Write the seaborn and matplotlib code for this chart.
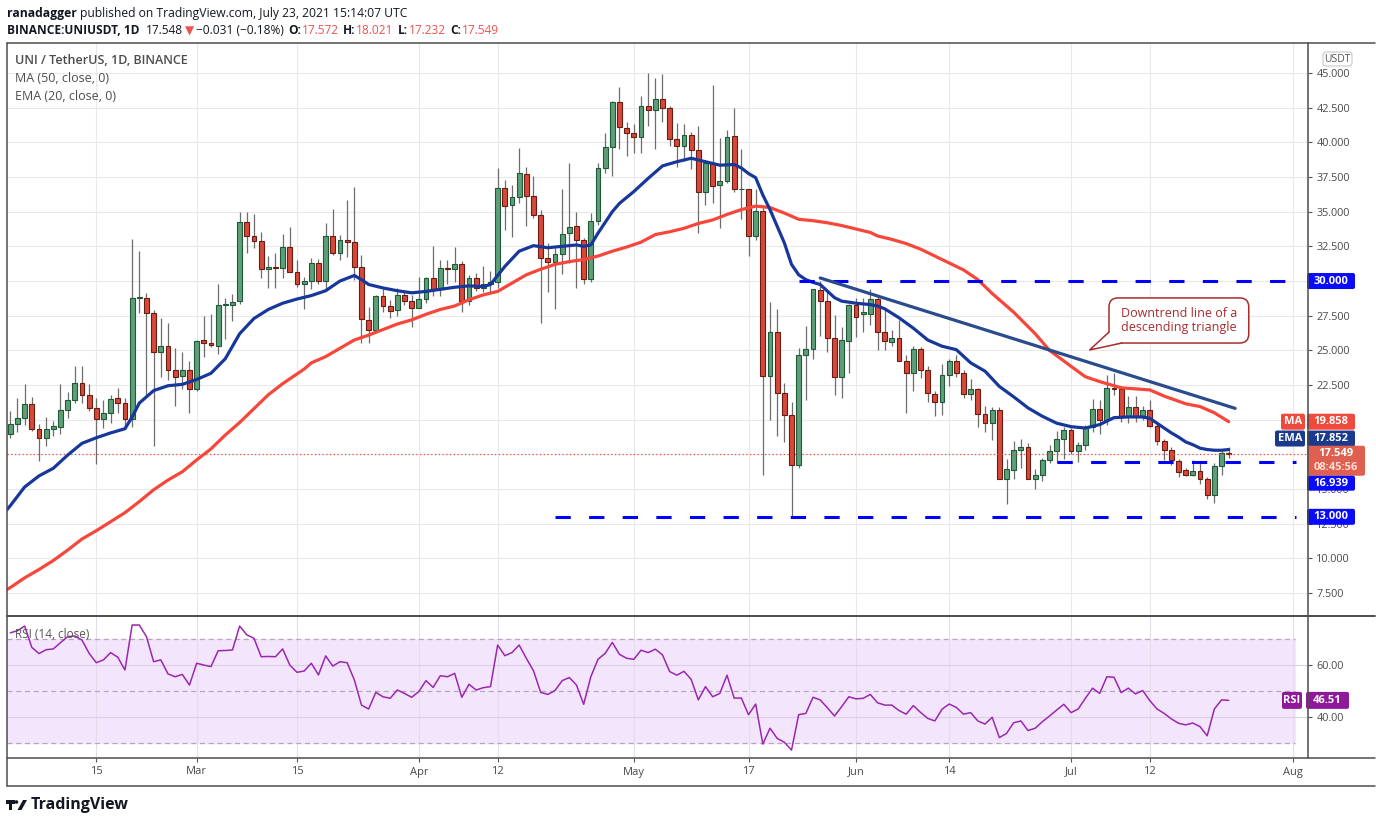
import numpy as np
import pandas as pd
import matplotlib
matplotlib.use("Agg")
import matplotlib.pyplot as plt
import seaborn as sns
from matplotlib.patches import FancyBboxPatch, Polygon, Rectangle, Circle
from matplotlib.lines import Line2D
from matplotlib.transforms import IdentityTransform

W, H = 1376, 823

# ---- values: UNI/USDT daily, 3 Feb - 23 Jul 2021 ----
first_day = "2021-02-03"

opens = [19.0, 19.7, 20.15, 21.15, 19.3, 18.7, 19.35, 19.5, 20.7, 21.45,
         22.65, 21.8, 20.85, 20.05, 20.5, 21.6, 21.2, 20.05, 28.75, 28.8,
         27.7, 24.85, 25.3, 23.55, 23.15, 23.6, 22.25, 25.75, 25.55, 25.35,
         28.3, 28.3, 28.55, 34.25, 33.25, 32.9, 30.85, 31.0, 30.95, 32.45,
         30.65, 29.8, 30.0, 31.3, 30.0, 33.25, 32.0, 32.95, 32.8, 31.0,
         27.2, 26.5, 28.9, 28.2, 27.9, 29.0, 28.55, 28.05, 28.7, 30.2,
         29.4, 30.95, 30.85, 31.2, 28.55, 30.2, 29.5, 29.8, 29.95, 36.7,
         35.5, 36.05, 37.7, 36.1, 34.75, 31.65, 31.35, 31.95, 33.45, 33.95,
         32.95, 30.15, 34.3, 38.15, 39.65, 42.9, 41.05, 40.7, 40.4, 42.6,
         42.3, 43.1, 42.45, 40.25, 39.7, 40.5, 39.45, 36.4, 38.5, 36.9,
         37.2, 40.45, 36.6, 36.6, 33.25, 35.05, 23.15, 26.3, 21.9, 20.35,
         16.75, 24.65, 25.1, 29.35, 28.55, 25.9, 23.1, 25.7, 28.3, 27.6,
         27.6, 28.7, 26.35, 25.6, 25.9, 24.25, 23.4, 25.1, 23.6, 21.85,
         21.25, 23.2, 24.2, 23.4, 21.85, 22.25, 20.4, 19.75, 20.7, 15.75,
         16.35, 17.8, 18.0, 15.75, 16.05, 17.1, 17.75, 18.6, 19.25, 17.75,
         18.15, 19.45, 20.75, 20.0, 22.3, 22.25, 20.3, 20.95, 20.3, 20.7,
         19.55, 18.45, 17.85, 17.0, 16.35, 16.05, 16.3, 15.7, 14.55, 16.7,
         17.572]
highs = [20.6, 21.6, 22.55, 21.65, 19.7, 20.2, 19.9, 22.55, 22.0, 23.85,
         23.85, 22.6, 21.6, 21.4, 21.8, 22.3, 21.6, 33.05, 32.2, 29.15,
         27.9, 27.35, 27.0, 25.2, 24.85, 24.2, 25.75, 27.5, 27.65, 29.8,
         28.8, 29.1, 34.95, 34.95, 34.8, 33.55, 31.8, 32.0, 33.4, 33.9,
         31.55, 30.3, 31.65, 31.6, 34.2, 35.2, 33.3, 35.85, 36.8, 31.9,
         28.1, 29.0, 29.4, 28.65, 29.5, 29.3, 29.0, 30.3, 30.3, 32.55,
         31.55, 31.55, 32.45, 31.45, 30.4, 30.55, 31.05, 30.7, 38.15, 37.25,
         36.9, 39.6, 38.25, 37.6, 35.15, 32.75, 32.4, 36.6, 38.5, 34.95,
         33.1, 34.9, 38.5, 40.65, 43.0, 44.0, 41.45, 41.35, 43.35, 45.0,
         44.65, 44.95, 42.6, 41.4, 41.3, 40.75, 41.2, 38.75, 44.1, 40.3,
         40.9, 42.45, 39.5, 36.65, 36.6, 35.45, 28.5, 28.0, 22.65, 21.3,
         25.15, 26.75, 29.45, 30.0, 29.4, 27.55, 26.7, 28.35, 28.75, 28.8,
         29.4, 29.0, 27.9, 26.5, 27.2, 24.65, 25.3, 25.25, 23.9, 22.1,
         24.0, 24.35, 24.7, 23.6, 22.95, 22.3, 21.0, 20.9, 20.9, 17.15,
         18.45, 18.6, 18.3, 16.45, 17.25, 18.15, 19.2, 19.5, 19.4, 18.4,
         19.6, 21.5, 21.4, 23.2, 23.4, 22.4, 21.7, 21.7, 21.0, 21.4,
         19.75, 18.6, 18.05, 17.15, 16.5, 17.1, 17.0, 15.9, 16.85, 17.8,
         18.021]
lows = [18.65, 19.15, 19.6, 19.2, 17.0, 18.1, 18.8, 18.95, 20.1, 21.2,
        21.2, 20.6, 16.8, 19.4, 19.8, 20.5, 19.4, 19.5, 27.7, 21.8,
        18.1, 23.1, 22.9, 21.0, 22.25, 20.5, 22.05, 24.5, 25.25, 24.75,
        25.8, 27.1, 28.35, 32.0, 32.35, 30.25, 29.5, 29.5, 30.2, 30.65,
        29.55, 28.0, 29.4, 29.75, 29.4, 31.85, 31.5, 31.7, 30.1, 25.55,
        25.5, 26.4, 27.75, 27.3, 27.5, 28.25, 26.7, 28.05, 28.4, 28.9,
        28.9, 29.8, 29.9, 27.75, 28.3, 29.25, 29.2, 29.15, 29.5, 33.7,
        33.2, 35.6, 33.95, 34.55, 27.0, 29.2, 28.0, 30.5, 31.3, 29.5,
        29.8, 29.95, 34.05, 37.8, 37.6, 39.55, 39.0, 39.25, 39.25, 41.2,
        39.5, 41.5, 39.7, 38.25, 38.65, 38.05, 33.45, 35.45, 35.65, 33.85,
        37.1, 36.45, 34.5, 31.8, 32.95, 16.0, 19.95, 18.8, 18.4, 13.0,
        16.5, 21.45, 24.4, 26.05, 24.85, 21.75, 21.6, 23.4, 25.95, 26.3,
        26.85, 25.0, 25.0, 25.3, 24.2, 20.5, 22.05, 23.0, 21.25, 20.25,
        20.35, 22.45, 23.05, 21.55, 21.4, 19.5, 19.15, 18.55, 15.7, 13.9,
        15.75, 16.55, 15.7, 15.0, 15.55, 16.85, 16.9, 17.15, 17.5, 16.95,
        17.8, 19.15, 19.0, 19.6, 21.8, 19.85, 19.75, 19.85, 19.95, 19.5,
        18.2, 17.1, 16.75, 15.9, 15.95, 15.95, 15.35, 14.3, 14.0, 16.05,
        17.232]
closes = [19.7, 20.15, 21.15, 19.3, 18.7, 19.35, 19.55, 20.7, 21.45, 22.65,
          21.8, 20.85, 20.05, 20.5, 21.5, 21.2, 20.05, 28.8, 28.8, 27.7,
          24.85, 25.3, 23.55, 23.1, 23.55, 22.25, 25.7, 25.55, 25.4, 28.3,
          28.3, 28.5, 34.25, 33.25, 32.9, 30.85, 31.0, 30.95, 32.45, 30.65,
          29.8, 30.0, 31.3, 30.0, 33.25, 32.0, 32.95, 32.8, 31.0, 27.25,
          26.5, 28.9, 28.2, 27.85, 29.0, 28.55, 28.05, 28.7, 30.2, 29.4,
          30.95, 30.85, 31.2, 28.55, 30.2, 29.5, 29.8, 29.95, 36.7, 35.4,
          36.05, 37.8, 36.1, 34.75, 31.65, 31.35, 31.95, 33.4, 33.9, 32.95,
          30.15, 34.3, 38.15, 39.65, 42.9, 41.1, 40.7, 40.4, 42.6, 42.3,
          43.1, 42.5, 40.25, 39.7, 40.5, 39.45, 36.4, 38.5, 36.85, 37.2,
          40.4, 36.6, 36.65, 33.25, 35.05, 23.15, 26.3, 21.9, 20.35, 16.75,
          24.65, 25.1, 29.4, 28.55, 25.9, 23.1, 25.75, 28.3, 27.4, 27.8,
          28.7, 26.35, 25.65, 25.9, 24.25, 23.4, 25.1, 23.6, 21.9, 21.25,
          23.2, 24.2, 23.4, 21.85, 22.25, 20.4, 19.75, 20.7, 15.75, 16.45,
          17.8, 18.0, 15.75, 16.05, 17.1, 17.75, 18.6, 19.25, 17.75, 18.15,
          19.45, 20.75, 20.0, 22.3, 22.2, 20.3, 20.95, 20.3, 20.7, 19.55,
          18.45, 17.85, 17.1, 16.25, 16.05, 16.3, 15.7, 14.55, 16.7, 17.6,
          17.549]
rsi = [72.5, 73.3, 75.1, 66.9, 64.5, 66.0, 66.3, 68.7, 71.0, 71.3,
       69.7, 64.6, 61.0, 62.1, 64.9, 63.1, 58.2, 75.5, 75.5, 71.0,
       61.4, 62.1, 56.7, 55.6, 56.5, 52.4, 60.8, 60.1, 59.5, 65.6,
       65.7, 65.9, 75.1, 71.7, 70.4, 63.3, 63.4, 63.3, 66.3, 60.1,
       57.3, 57.8, 60.8, 56.3, 63.6, 59.7, 61.4, 61.0, 54.4, 44.7,
       43.2, 49.6, 47.9, 47.3, 50.5, 49.2, 47.7, 49.9, 54.1, 51.5,
       56.0, 55.6, 56.9, 47.7, 52.7, 50.5, 51.4, 51.8, 67.8, 63.7,
       64.9, 67.8, 62.7, 57.9, 49.6, 48.8, 50.3, 54.1, 55.3, 52.4,
       45.0, 55.6, 62.3, 64.6, 68.8, 64.2, 62.7, 62.3, 65.8, 64.9,
       66.2, 64.0, 57.6, 56.2, 57.7, 54.6, 46.7, 51.8, 47.9, 49.2,
       56.2, 47.4, 47.4, 41.0, 45.1, 29.7, 35.8, 31.9, 30.4, 27.4,
       41.0, 41.5, 47.7, 46.7, 43.7, 40.5, 44.1, 47.9, 47.1, 47.3,
       48.8, 45.6, 44.7, 44.7, 42.6, 41.2, 44.5, 41.9, 39.6, 38.6,
       43.1, 45.1, 43.8, 41.2, 41.8, 38.6, 37.4, 40.0, 32.2, 33.8,
       37.9, 38.6, 34.9, 35.8, 38.3, 40.5, 42.8, 45.0, 41.8, 43.2,
       47.3, 51.2, 49.2, 55.6, 55.4, 49.5, 51.2, 49.0, 50.3, 46.4,
       43.2, 41.5, 39.4, 37.7, 37.1, 37.8, 36.4, 32.9, 43.2, 46.7,
       46.51]

# EMA(20) and MA(50) read at these bar numbers (1 = first bar)
ema_bar = [0.5, 1, 3, 5, 7, 9, 11, 13, 15, 17, 18, 19, 21, 23, 25, 27, 29, 31, 33, 35,
           37, 39, 41, 43, 45, 47, 49, 50, 51, 53, 55, 57, 59, 61, 63, 65, 67, 68, 69, 70,
           72, 74, 76, 78, 80, 81, 82, 83, 85, 86, 88, 90, 92, 94, 96, 98, 100, 102, 103, 104,
           105, 106, 107, 108, 109, 110, 111, 112, 113, 114, 116, 117, 119, 121, 122, 123, 125, 127, 129, 131,
           133, 135, 137, 139, 141, 143, 145, 147, 149, 151, 153, 155, 157, 159, 160, 161, 162, 163, 164, 165,
           166, 167, 168, 169, 170, 171]
ema_val = [13.5, 13.8, 15.15, 15.95, 16.5, 17.45, 18.3, 18.7, 19.05, 19.35, 20.2, 21.2, 22.1, 22.45, 22.55, 22.9, 23.35, 24.4, 26.2, 27.3,
           27.95, 28.4, 28.7, 28.95, 29.3, 30.0, 30.4, 30.1, 29.75, 29.5, 29.3, 29.15, 29.25, 29.4, 29.55, 29.65, 29.6, 29.75, 30.4, 31.05,
           32.15, 32.55, 32.4, 32.5, 32.6, 32.5, 32.6, 33.45, 35.0, 35.6, 36.45, 37.4, 38.3, 38.6, 38.85, 38.6, 38.35, 38.4, 38.15, 37.75,
           37.45, 36.2, 35.15, 33.95, 32.75, 31.2, 30.45, 30.1, 29.9, 29.75, 28.8, 28.55, 28.4, 28.3, 28.2, 28.0, 27.35, 26.6, 25.75, 25.3,
           25.05, 24.1, 23.5, 22.4, 21.65, 20.85, 20.25, 19.75, 19.5, 19.4, 19.65, 20.15, 20.2, 20.2, 20.1, 19.75, 19.4, 19.05, 18.75, 18.4,
           18.2, 17.95, 17.85, 17.8, 17.8, 17.85]
ma_bar = [0.5, 1, 3, 5, 7, 9, 11, 13, 15, 17, 19, 21, 23, 25, 27, 29, 31, 33, 35, 37,
          39, 41, 42, 43, 45, 47, 49, 51, 53, 55, 57, 59, 61, 63, 65, 67, 69, 71, 73, 75,
          77, 79, 81, 83, 85, 87, 89, 91, 93, 95, 97, 99, 101, 103, 105, 107, 109, 111, 113, 115,
          117, 119, 121, 122, 124, 126, 128, 130, 132, 134, 136, 138, 141, 144, 146, 149, 151, 153, 154, 156,
          160, 162, 165, 167, 169, 171]
ma_val = [7.75, 7.9, 8.6, 9.2, 9.85, 10.6, 11.4, 12.0, 12.65, 13.3, 14.1, 14.95, 15.65, 16.25, 17.1, 17.9, 18.9, 19.8, 20.8, 21.8,
          22.6, 23.3, 23.65, 24.1, 24.55, 25.15, 25.75, 26.1, 26.5, 26.9, 27.2, 27.6, 27.95, 28.2, 28.65, 29.0, 29.25, 29.85, 30.45, 30.85,
          31.2, 31.4, 31.55, 31.8, 32.15, 32.45, 32.8, 33.35, 33.55, 33.8, 34.15, 34.4, 34.8, 35.15, 35.4, 35.3, 34.9, 34.45, 34.35, 34.2,
          34.0, 33.75, 33.5, 33.25, 33.0, 32.7, 32.3, 31.8, 31.3, 30.8, 30.1, 29.1, 27.75, 26.2, 25.0, 23.85, 23.1, 22.75, 22.6, 22.3,
          22.15, 21.7, 21.15, 20.95, 20.5, 19.86]

tick_dates = ["2021-02-15", "2021-03-01", "2021-03-15", "2021-04-01", "2021-04-12", "2021-05-01",
              "2021-05-17", "2021-06-01", "2021-06-14", "2021-07-01", "2021-07-12", "2021-08-01"]
tick_labels = ["15", "Mar", "15", "Apr", "12", "May", "17", "Jun", "14", "Jul", "12", "Aug"]
price_ticks = [7.5, 10, 12.5, 15, 17.5, 20, 22.5, 25, 27.5, 30, 32.5, 35, 37.5, 40, 42.5, 45]
hidden_ticks = [17.5, 20]            # covered by the price / MA tags on the chart

levels = [30.0, 16.939, 13.0]        # dashed support / resistance
level_start = [110, 146, 76]         # bar index where each dashed line begins
trend_x = [113.0, 170.9]             # downtrend line
trend_y = [30.22, 20.82]
last_price = 17.549
ma_last, ema_last, rsi_last = 19.858, 17.852, 46.51

# ---- figure ----
sns.set_theme(style="white")
plt.rcParams["font.family"] = ["Open Sans", "DejaVu Sans"]

fig = plt.figure(figsize=(W / 100, H / 100), dpi=100)
fig.patch.set_facecolor("white")
ID = IdentityTransform()


def dx(xpx):
    # image pixel column -> bar index
    return (xpx - 10.3) / 7.167


def add_ax(x0, y0, x1, y1):
    a = fig.add_axes([x0 / W, 1 - y1 / H, (x1 - x0) / W, (y1 - y0) / H])
    for s in a.spines.values():
        s.set_visible(False)
    a.set_facecolor("none")
    return a


def ftext(x, y, s, **kw):
    return fig.text(x / W, 1 - y / H, s, **kw)


def fline(xs, ys, color="#4d4d4d", lw=1.1):
    fig.add_artist(Line2D(xs, [H - v for v in ys], transform=ID, color=color, lw=lw, zorder=50))


ax = add_ax(7, 43, 1308, 616)
axr = add_ax(7, 617, 1308, 758)
axs = add_ax(7, 758, 1375, 786)

ax.set_xlim(dx(7), dx(1308))
ax.set_ylim(5.85, 47.16)
axr.set_xlim(dx(7), dx(1308))
axr.set_ylim(24.35, 78.58)
axs.set_xlim(dx(7), dx(1375))
axs.set_ylim(0, 1)

start = pd.Timestamp(first_day)
tick_days = (pd.to_datetime(tick_dates) - start).days.values
days = np.arange(len(closes))

for a in (ax, axr):
    a.set_xticks(tick_days)
    a.tick_params(axis="x", length=0, labelbottom=False)
    a.yaxis.tick_right()
    a.set_axisbelow(True)

ax.grid(True, color="#e9e9e9", lw=0.8)
ax.set_yticks(price_ticks)
ax.set_yticklabels(["" if v in hidden_ticks else f"{v:.3f}" for v in price_ticks])
ax.tick_params(axis="y", length=3, width=0.8, color="#555555", labelsize=7.8,
               labelcolor="#4a4a4a", pad=3)

# candles
o = np.array(opens); c = np.array(closes)
up = c >= o
bottom = np.minimum(o, c)
height = np.maximum(np.abs(c - o), 0.07)
ax.vlines(days, lows, highs, color="#6d6d6d", lw=0.9, zorder=2)
ax.bar(days[up], height[up], bottom=bottom[up], width=0.68, color="#5e9f7a",
       edgecolor="#1e5a37", linewidth=0.8, zorder=3)
ax.bar(days[~up], height[~up], bottom=bottom[~up], width=0.68, color="#d6493a",
       edgecolor="#6b1c12", linewidth=0.8, zorder=3)

# moving averages
sns.lineplot(x=np.array(ma_bar) - 1, y=ma_val, ax=ax, color="#f7463a", lw=2.3,
             estimator=None, zorder=4)
sns.lineplot(x=np.array(ema_bar) - 1, y=ema_val, ax=ax, color="#17389a", lw=2.3,
             estimator=None, zorder=4)

ax.axhline(last_price, color="#e8503a", lw=0.9, ls=(0, (1, 2)), zorder=3)

for lv, st in zip(levels, level_start):
    ax.plot([st, dx(1296)], [lv, lv], color="#0000ff", lw=2.2, ls=(0, (5, 6)),
            solid_capstyle="butt", zorder=6)
ax.plot(trend_x, trend_y, color="#2a4b8c", lw=2.3, solid_capstyle="round", zorder=6)
ax.set_xlabel("")
ax.set_ylabel("")

# RSI panel
band_end = (1295 - 7) / 1301
axr.axhspan(30, 70, xmax=band_end, color="#f3e6fc", zorder=0)
axr.set_yticks([40, 60])
axr.set_yticklabels(["40.00", "60.00"])
axr.grid(True, axis="x", color="#e4dce9", lw=0.8)
for v in (40, 60):
    axr.axhline(v, color="#ddd0e6", lw=0.8, zorder=0.6)
for v in (70, 50, 30):
    axr.axhline(v, xmax=band_end, color="#b3a6bd", lw=0.9, ls=(0, (4, 3)), zorder=0.7)
axr.tick_params(axis="y", length=3, width=0.8, color="#555555", labelsize=7.8,
                labelcolor="#4a4a4a", pad=3)
sns.lineplot(x=days, y=rsi, ax=axr, color="#9b27af", lw=1.1, zorder=3)
axr.set_xlabel("")
axr.set_ylabel("")

# date strip
axs.set_yticks([])
axs.set_xticks(tick_days)
axs.tick_params(axis="x", top=True, bottom=False, direction="in", length=3, width=0.8,
                color="#555555", labelbottom=False, labeltop=False)
for d, lab in zip(tick_days, tick_labels):
    axs.text(d, 0.5, lab, ha="center", va="center", fontsize=8, color="#4a4a4a")

# frame
fline([7, 1375], [43, 43])
fline([7, 1375], [616, 616], lw=1.4)
fline([7, 1375], [758, 758])
fline([7, 1375], [786, 786])
fline([7, 7], [43, 786])
fline([1308, 1308], [43, 758])

# callout
bx0, by0 = ax.transData.transform((153.3, 25.53))
bx1, by1 = ax.transData.transform((172.8, 28.78))
tx, ty = ax.transData.transform((150.6, 25.03))
red_txt = "#a82c2c"
fig.add_artist(FancyBboxPatch((bx0, by0), bx1 - bx0, by1 - by0,
                              boxstyle="round,pad=0,rounding_size=9", fc="white",
                              ec=red_txt, lw=1.1, transform=ID, zorder=30))
fig.add_artist(Polygon([(tx, ty), (bx0 + 0.8, by0 + 11), (bx0 + 13, by0 + 0.8)],
                       closed=True, fc="white", ec="none", transform=ID, zorder=31))
fig.add_artist(Line2D([bx0, tx, bx0 + 13], [by0 + 11, ty, by0], color=red_txt, lw=1.1,
                      transform=ID, zorder=32))
fig.text((bx0 + bx1) / 2 / W, (by0 + by1) / 2 / H, "Downtrend line of a\ndescending triangle",
         color=red_txt, fontsize=9, ha="center", va="center", linespacing=1.05, zorder=33)


# right-axis tags
def py(a, v):
    return H - a.transData.transform((0, v))[1]


def tag(x0, x1, yc, h, fc, txt, tc="white", fs=8, weight="bold"):
    fig.add_artist(FancyBboxPatch((x0, H - yc - h / 2), x1 - x0, h,
                                  boxstyle="round,pad=0,rounding_size=2", fc=fc, ec="none",
                                  transform=ID, zorder=40))
    ftext((x0 + x1) / 2, yc, txt, color=tc, fontsize=fs, fontweight=weight,
          ha="center", va="center", zorder=41)


blue = "#0a0aff"
tag(1307, 1355, py(ax, levels[0]), 16, blue, f"{levels[0]:.3f}")
tag(1281, 1305, py(ax, ma_last), 16, "#f04a3c", "MA")
tag(1307, 1355, py(ax, ma_last), 16, "#f04a3c", f"{ma_last:.3f}")
tag(1275, 1305, py(ax, ema_last) - 11, 16, "#1a3a8e", "EMA")
tag(1307, 1355, py(ax, ema_last) - 11, 16, "#1a3a8e", f"{ema_last:.3f}")
yp = py(ax, last_price)
fig.add_artist(FancyBboxPatch((1307, H - yp - 22), 58, 30, boxstyle="round,pad=0,rounding_size=2",
                              fc="#e0604f", ec="none", transform=ID, zorder=40))
ftext(1336, yp, f"{last_price:.3f}", color="white", fontsize=8, fontweight="bold",
      ha="center", va="center", zorder=41)
ftext(1336, yp + 14, "08:45:56", color="#ffe0da", fontsize=8, fontweight="bold",
      ha="center", va="center", zorder=41)
tag(1307, 1355, py(ax, levels[1]) + 21, 15, blue, f"{levels[1]:.3f}")
tag(1307, 1355, py(ax, levels[2]), 16, blue, f"{levels[2]:.3f}")
tag(1282, 1302, py(axr, rsi_last), 17, "#8e1a9a", "RSI")
tag(1306, 1349, py(axr, rsi_last), 17, "#8e1a9a", f"{rsi_last:.2f}")

fig.add_artist(FancyBboxPatch((1323, H - 66), 29, 14, boxstyle="round,pad=0,rounding_size=3",
                              fc="white", ec="#c9c9c9", lw=0.8, transform=ID, zorder=40))
ftext(1337.5, 59, "USDT", color="#555555", fontsize=7.5, ha="center", va="center", zorder=41)

# legends in panels
ftext(15, 61, "UNI / TetherUS, 1D, BINANCE", color="#4d4d4d", fontsize=9,
      fontweight="semibold", va="center")
ftext(15, 79, "MA (50, close, 0)", color="#4d4d4d", fontsize=9, va="center")
ftext(15, 96, "EMA (20, close, 0)", color="#4d4d4d", fontsize=9, va="center")
ftext(15, 634, "RSI (14, close)", color="#555555", fontsize=8.5, va="center")

# header
renderer = fig.canvas.get_renderer()


def rich(x, y, parts, fs):
    # lay coloured / bold pieces one after another
    for s, color, weight, gap in parts:
        x += gap
        t = ftext(x, y, s, color=color, fontsize=fs, fontweight=weight, va="center", ha="left")
        x += t.get_window_extent(renderer).width
    return x


black, hred = "#131722", "#ef5350"
ftext(7, 13, "ranadagger", color=black, fontsize=8.7, fontweight="bold", va="center")
ftext(80, 13, "published on TradingView.com, July 23, 2021 15:14:07 UTC", color=black,
      fontsize=8.7, va="center")
rich(7, 31, [("BINANCE:UNIUSDT, 1D", black, "bold", 0),
             ("17.548", black, "normal", 6.5), ("▼", hred, "normal", 2),
             ("−0.031 (−0.18%)", black, "normal", 2),
             ("O:", black, "bold", 4), ("17.572", hred, "normal", 1),
             ("H:", black, "bold", 4), ("18.021", hred, "normal", 1),
             ("L:", black, "bold", 4), ("17.232", hred, "normal", 1),
             ("C:", black, "bold", 4), ("17.549", hred, "normal", 1)], fs=8.6)

# TradingView logo
fig.add_artist(Rectangle((5.5, H - 803.5), 9, 3.5, fc="#131722", ec="none", transform=ID))
fig.add_artist(Rectangle((8.5, H - 810), 3.5, 10, fc="#131722", ec="none", transform=ID))
fig.add_artist(Circle((16.5, H - 802), 1.8, fc="#131722", ec="none", transform=ID))
fig.add_artist(Polygon([(17.5, H - 810), (21.5, H - 810), (27, H - 800), (23, H - 800)],
                       fc="#131722", ec="none", transform=ID))
ftext(31, 805, "TradingView", color="#131722", fontsize=11.5, fontweight="bold", va="center")

fig.savefig("out.png", dpi=100)
